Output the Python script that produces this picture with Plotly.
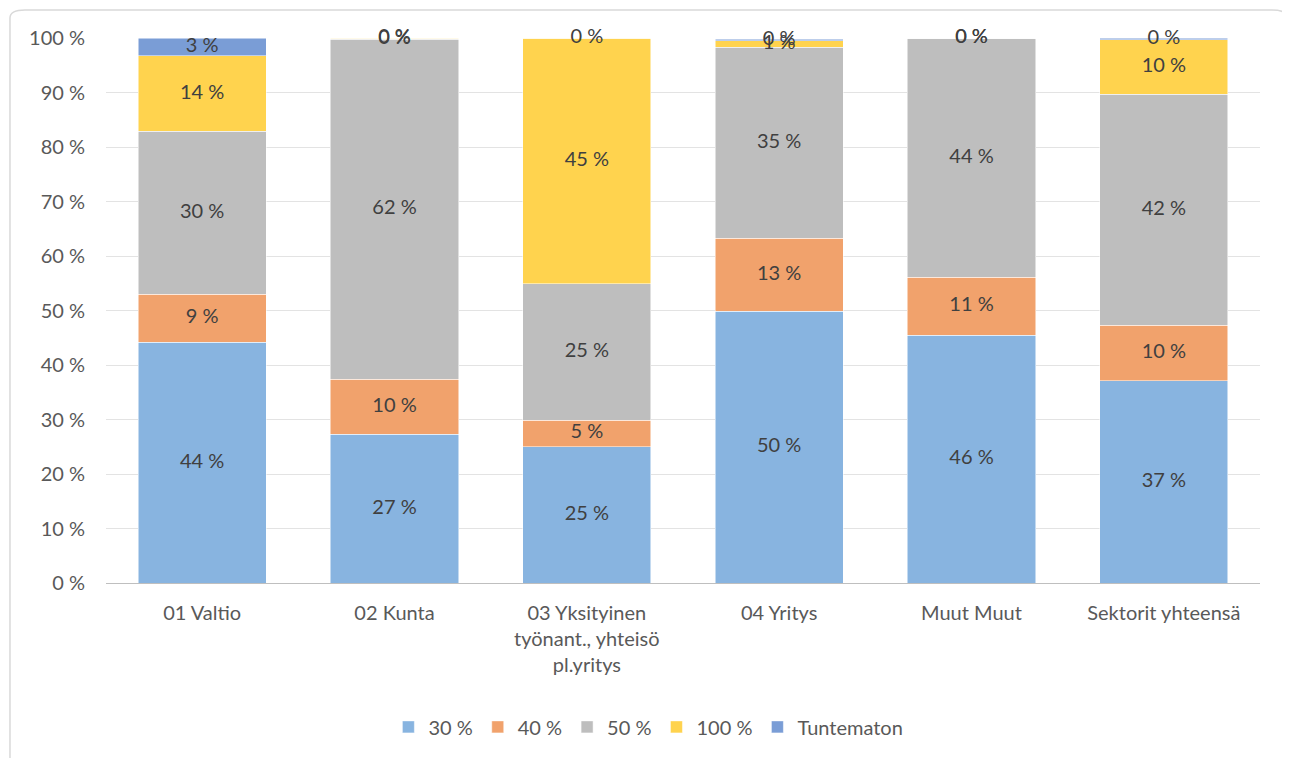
import plotly.graph_objects as go

categories = ["01 Valtio", "02 Kunta", "03 Yksityinen<br>työnant., yhteisö<br>pl.yritys",
              "04 Yritys", "Muut Muut", "Sektorit yhteensä"]
series_names = ["30 %", "40 %", "50 %", "100 %", "Tuntematon"]

# osuudet prosentteina
s30 = [44.2, 27.3, 25.0, 49.9, 45.5, 37.1]
s40 = [8.8, 10.1, 4.9, 13.4, 10.6, 10.2]
s50 = [29.9, 62.4, 25.0, 35.0, 43.9, 42.4]
s100 = [13.8, 0.2, 45.1, 1.2, 0.0, 10.0]
tuntematon = [3.3, 0.0, 0.0, 0.3, 0.0, 0.3]

colors = ["#88B4E0", "#F1A26C", "#BEBEBE", "#FFD34E", "#7A9DD6"]
series = [s30, s40, s50, s100, tuntematon]

fig = go.Figure()

for name, vals, col in zip(series_names, series, colors):
    fig.add_trace(go.Bar(x=categories, y=vals, name=name, marker_color=col,
                         marker_line=dict(color="white", width=0.5)))

# arvojen tekstit segmenttien keskelle
base = [0] * len(categories)
for vals in series:
    mids = [b + v / 2 for b, v in zip(base, vals)]
    fig.add_trace(go.Scatter(x=categories, y=mids, mode="text",
                             text=[f"{round(v):.0f} %" for v in vals],
                             textfont=dict(size=20, color="#404040", family="Lato"),
                             cliponaxis=False, showlegend=False, hoverinfo="skip"))
    base = [b + v for b, v in zip(base, vals)]

fig.update_layout(
    barmode="stack",
    bargap=0.333,
    width=1282, height=750,
    margin=dict(l=98, r=30, t=30, b=175),
    plot_bgcolor="white", paper_bgcolor="white",
    font=dict(family="Lato", size=20, color="#595959"),
    legend=dict(orientation="h", x=0.47, xanchor="center", y=-0.264, yanchor="middle",
                font=dict(size=20, color="#595959"), traceorder="normal"),
    shapes=[dict(type="path", xref="paper", yref="paper",
                 path="M -0.0832,1.0367 Q -0.0832,1.0514 -0.0702,1.0514 L 1.0104,1.0514 "
                      "Q 1.0234,1.0514 1.0234,1.0367 L 1.0234,-0.35 L -0.0832,-0.35 Z",
                 line=dict(color="#D9D9D9", width=1.5), layer="below")],
)
fig.update_yaxes(range=[0, 100], dtick=10, ticksuffix=" %", showgrid=True,
                 gridcolor="#E3E3E3", gridwidth=1, zeroline=False, ticklabelstandoff=20)
fig.update_xaxes(showline=True, linecolor="#BFBFBF", linewidth=1, ticks="",
                 ticklabelstandoff=12)

fig.write_html("out.html")
